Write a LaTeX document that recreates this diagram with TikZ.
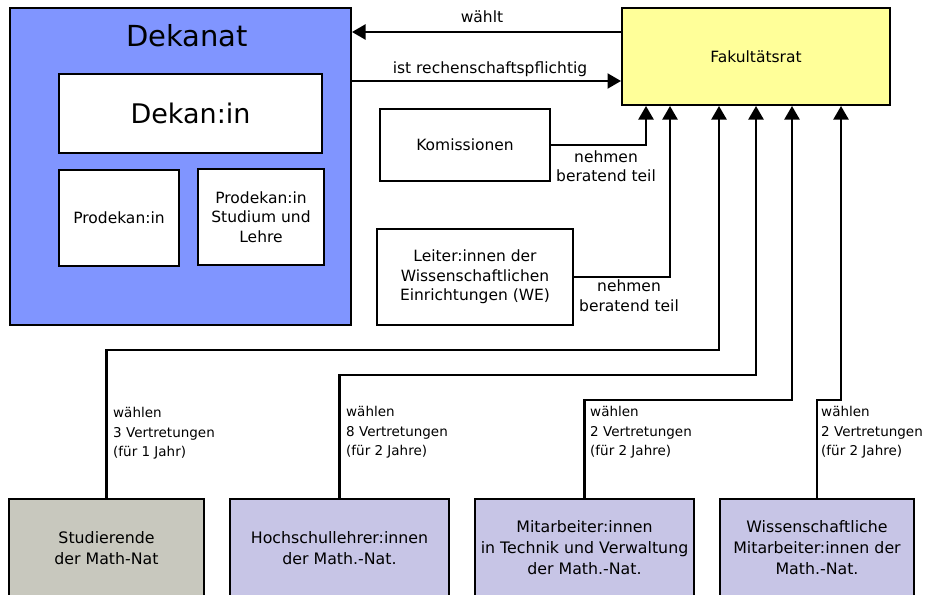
\documentclass[tikz,border=0pt]{standalone}
\usepackage{fontspec}
\setmainfont{DejaVu Sans}
\usetikzlibrary{arrows.meta}
\definecolor{dekblue}{RGB}{128,149,255}
\definecolor{fakyellow}{RGB}{255,255,153}
\definecolor{studgray}{RGB}{200,200,190}
\definecolor{grouppurple}{RGB}{199,197,230}
\begin{document}
\begin{tikzpicture}[x=1pt,y=-1pt,
  box/.style={draw=black, line width=2.4pt, inner sep=0pt, align=center,
    font=\fontsize{15.5}{19.5}\selectfont},
  bottombox/.style={box, font=\fontsize{15.8}{21}\selectfont, minimum height=97.6pt},
  conn/.style={draw=black, line width=2.2pt},
  arr/.style={conn, -{Triangle[length=13.5pt,width=15pt]}},
  lab/.style={font=\fontsize{15.5}{19.5}\selectfont, align=center, inner sep=0pt},
  vlab/.style={font=\fontsize{13.5}{19.5}\selectfont, align=left, anchor=west, inner sep=0pt}
]
\useasboundingbox (0,0) rectangle (925,594);
\clip (0,0) rectangle (925,594);
\fill[white] (0,0) rectangle (925,594);

% Dekanat
\node[box, fill=dekblue, minimum width=340.6pt, minimum height=316.6pt] (dekanat) at (180.5,166.5) {};
\node[lab, font=\fontsize{29}{34}\selectfont] (dekanattitle) at (187,36) {Dekanat};
\node[box, fill=white, font=\fontsize{27}{32}\selectfont, minimum width=262.6pt, minimum height=78.6pt] (dekan) at (190.5,113.5) {Dekan:in};
\node[box, fill=white, minimum width=119.6pt, minimum height=95.6pt] (prodekan) at (119,218) {Prodekan:in};
\node[box, fill=white, minimum width=125.6pt, minimum height=95.6pt] (prodekansl) at (261,217) {Prodekan:in\\Studium und\\Lehre};

% Fakultaetsrat
\node[box, fill=fakyellow, minimum width=267.6pt, minimum height=96.6pt] (fak) at (756,56.5) {Fakultätsrat};

% advisory bodies
\node[box, fill=white, minimum width=169.6pt, minimum height=71.6pt] (kom) at (465,145) {Komissionen};
\node[box, fill=white, minimum width=195.6pt, minimum height=95.6pt] (leiter) at (475,277) {Leiter:innen der\\Wissenschaftlichen\\Einrichtungen (WE)};

% bottom groups
\node[bottombox, fill=studgray, minimum width=194.6pt] (stud) at (106.5,548) {Studierende\\der Math-Nat};
\node[bottombox, fill=grouppurple, minimum width=218.6pt] (hoch) at (339.5,548) {Hochschullehrer:innen\\der Math.-Nat.};
\node[bottombox, fill=grouppurple, minimum width=218.6pt] (mitarb) at (584.5,548) {Mitarbeiter:innen\\in Technik und Verwaltung\\der Math.-Nat.};
\node[bottombox, fill=grouppurple, minimum width=193.6pt] (wiss) at (817,548) {Wissenschaftliche\\Mitarbeiter:innen der\\Math.-Nat.};

% helper coordinates
\coordinate (ywaehlt) at (0,32);
\coordinate (yist) at (0,81);
\coordinate (ys) at (0,350);
\coordinate (yh) at (0,375);
\coordinate (ym) at (0,400);
\coordinate (yw) at (0,400);
\coordinate (xk) at (646,0);
\coordinate (xl) at (670,0);
\coordinate (xs) at (719,0);
\coordinate (xh) at (756,0);
\coordinate (xm) at (792,0);
\coordinate (xw) at (841,0);

% top connectors
\draw[arr] (fak.west |- ywaehlt) -- (dekanat.east |- ywaehlt);
\node[lab] (lwaehlt) at (482,17) {wählt};
\draw[arr] (dekanat.east |- yist) -- (fak.west |- yist);
\node[lab] (list) at (490,69.5) {ist rechenschaftspflichtig};

% advisory connectors
\draw[arr] (kom.east) -- (xk |- kom.east) -- (xk |- fak.south);
\node[lab] (lkom) at (606,166) {nehmen\\beratend teil};
\draw[arr] (leiter.east) -- (xl |- leiter.east) -- (xl |- fak.south);
\node[lab] (lleiter) at (629,295.5) {nehmen\\beratend teil};

% election connectors
\draw[arr] (stud.north) -- (stud.north |- ys) -- (xs |- ys) -- (xs |- fak.south);
\draw[arr] (hoch.north) -- (hoch.north |- yh) -- (xh |- yh) -- (xh |- fak.south);
\draw[arr] (mitarb.north) -- (mitarb.north |- ym) -- (xm |- ym) -- (xm |- fak.south);
\draw[arr] (wiss.north) -- (wiss.north |- yw) -- (xw |- yw) -- (xw |- fak.south);

\node[vlab] (lstud) at (113,433.5) {wählen\\3 Vertretungen\\(für 1 Jahr)};
\node[vlab] (lhoch) at (346,432.5) {wählen\\8 Vertretungen\\(für 2 Jahre)};
\node[vlab] (lmitarb) at (590,432.5) {wählen\\2 Vertretungen\\(für 2 Jahre)};
\node[vlab] (lwiss) at (821,432.5) {wählen\\2 Vertretungen\\(für 2 Jahre)};
\end{tikzpicture}
\end{document}
